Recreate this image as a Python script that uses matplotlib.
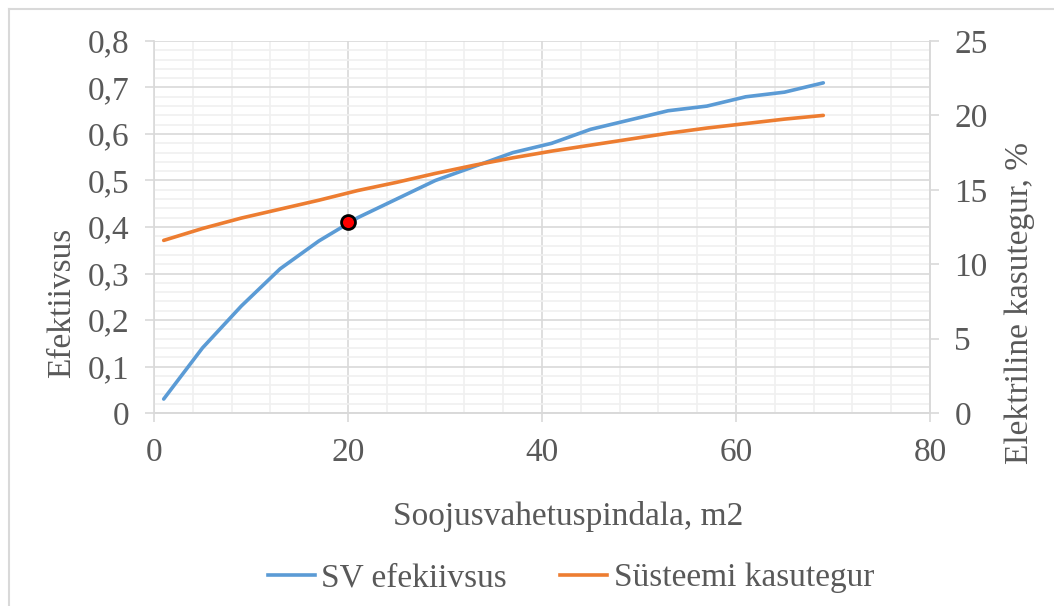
import matplotlib
matplotlib.use("Agg")
import matplotlib.pyplot as plt
from matplotlib.lines import Line2D
from matplotlib.ticker import MultipleLocator, FuncFormatter

# Data
area = [1, 5, 9, 13, 17, 21, 25, 29, 33, 37, 41, 45, 49, 53, 57, 61, 65, 69]
sv_eff = [0.03, 0.14, 0.23, 0.31, 0.37, 0.42, 0.46, 0.50, 0.53, 0.56, 0.58,
          0.61, 0.63, 0.65, 0.66, 0.68, 0.69, 0.71]
sys_eff = [11.6, 12.4, 13.1, 13.7, 14.3, 14.95, 15.5, 16.1, 16.65, 17.15, 17.6,
           18.0, 18.4, 18.8, 19.15, 19.45, 19.75, 20.0]
marker_x = [20]
marker_y = [0.41]

BLUE = "#5B9BD5"
ORANGE = "#ED7D31"
TXT = "#595959"
GRID = "#D9D9D9"
MINOR = "#F0F0F0"
FS = 24

plt.rcParams['font.family'] = ['Liberation Serif', 'DejaVu Serif']

W, H = 1054, 606
fig = plt.figure(figsize=(W / 100, H / 100), dpi=100)
ax = fig.add_axes([154 / W, 1 - 413 / H, (930 - 154) / W, (413 - 41) / H])

ax.set_xlim(0, 80)
ax.set_ylim(0, 0.8)
ax.xaxis.set_major_locator(MultipleLocator(20))
ax.xaxis.set_minor_locator(MultipleLocator(4))
ax.yaxis.set_major_locator(MultipleLocator(0.1))
ax.yaxis.set_minor_locator(MultipleLocator(0.02))
ax.grid(which='minor', color=MINOR, linewidth=1.2, zorder=0)
ax.grid(which='major', color=GRID, linewidth=1.2, zorder=0)
ax.set_axisbelow(True)

def comma(v, pos):
    if abs(v) < 1e-9:
        return "0"
    return f"{v:.1f}".replace('.', ',')
ax.yaxis.set_major_formatter(FuncFormatter(comma))

ax.plot(area, sv_eff, color=BLUE, linewidth=2.6, solid_capstyle='round', zorder=3)
ax.plot(marker_x, marker_y, 'o', markersize=10, markerfacecolor='red',
        markeredgecolor='black', markeredgewidth=2, zorder=5)

ax2 = ax.twinx()
ax2.set_ylim(0, 25)
ax2.yaxis.set_major_locator(MultipleLocator(5))
ax2.plot(area, sys_eff, color=ORANGE, linewidth=2.6, solid_capstyle='round', zorder=3)

for a in (ax, ax2):
    for s in a.spines.values():
        s.set_color(GRID)
        s.set_linewidth(1.2)
    a.spines['top'].set_visible(False)
    a.tick_params(which='major', colors=GRID, labelcolor=TXT, labelsize=FS,
                  length=6.5, width=1.2, pad=11)
    a.tick_params(which='minor', length=0)
ax2.spines['left'].set_visible(False)

ax.set_ylabel("Efektiivsus", fontsize=FS, color=TXT)
ax.yaxis.set_label_coords(62 / W, 0.5, transform=fig.transFigure)
ax2.set_ylabel("Elektriline kasutegur, %", fontsize=FS, color=TXT)
ax2.yaxis.set_label_coords(1020 / W, 0.5, transform=fig.transFigure)
ax.set_xlabel("Soojusvahetuspindala, m2", fontsize=FS, color=TXT)
ax.xaxis.set_label_coords(0.5, 1 - 517 / H, transform=fig.transFigure)
ax.xaxis.label.set_va('center')
ax.yaxis.label.set_va('center')
ax2.yaxis.label.set_va('center')
ax.xaxis.label.set_x(568 / W)

handles = [Line2D([0], [0], color=BLUE, linewidth=2.6),
           Line2D([0], [0], color=ORANGE, linewidth=2.6)]
fig.legend(handles, ["SV efekiivsus", "Süsteemi kasutegur"], loc='center',
           bbox_to_anchor=(571 / W, 1 - 578 / H), ncol=2, frameon=False,
           fontsize=FS, labelcolor=TXT, handlelength=1.4, handletextpad=0.2,
           columnspacing=1.6)

# chart-area border
fig.add_artist(Line2D([9 / W, 9 / W], [0, 1 - 9 / H], color=GRID, linewidth=1.5))
fig.add_artist(Line2D([9 / W, 1], [1 - 9 / H, 1 - 9 / H], color=GRID, linewidth=1.5))

fig.savefig("out.png", dpi=100)
